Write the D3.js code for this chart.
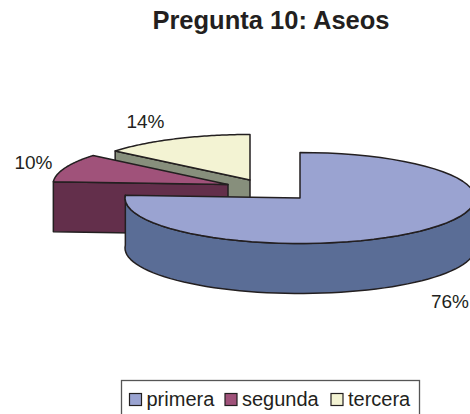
<!DOCTYPE html>
<html>
<head>
<meta charset="utf-8">
<script src="https://cdn.jsdelivr.net/npm/d3@7"></script>
<style>
body { margin: 0; background: #fff; }
svg { display: block; font-family: "Liberation Sans", Arial, sans-serif; }
</style>
</head>
<body>
<script>
var categories = ["primera", "segunda", "tercera"];
var values = [76, 10, 14];
var valueLabels = ["76%", "10%", "14%"];

var topColors = ["#9aa3d1", "#a0527a", "#f3f3d3"];
var sideColors = ["#5a6d96", "#632f4b", "#878f7c"];

var width = 470, height = 414;
var rx = 175, ry = 45.5, depth = 50;
var ink = "#231f20";

// where each exploded slice has its apex
var centers = [[300, 198], [228, 184.5], [250, 180]];
var labelPos = [[450, 308], [33.5, 169], [145.5, 128]];
var legendX = [129.5, 225, 331];

var svg = d3.select("body").append("svg")
	.attr("width", width)
	.attr("height", height);

var slices = d3.pie().sort(null)(values);
var line = d3.line();

// point on the tilted rim, angle measured clockwise from the top
function rimPoint(c, a) {
	return [c[0] + rx * Math.sin(a), c[1] - ry * Math.cos(a)];
}

function rim(c, a0, a1) {
	var steps = d3.range(0, 61).map(function(i) { return a0 + (a1 - a0) * i / 60; });
	return steps.map(function(a) { return rimPoint(c, a); });
}

function down(p) { return [p[0], p[1] + depth]; }

function wallPath(pts) {
	return line(pts.concat(pts.slice().reverse().map(down))) + "Z";
}

function drawFace(d, fill) {
	svg.append("path")
		.attr("d", d)
		.attr("fill", fill)
		.attr("stroke", ink)
		.attr("stroke-width", 1.5)
		.attr("stroke-linejoin", "round");
}

// back to front: tercera, segunda, primera
[2, 1, 0].forEach(function(i) {
	var s = slices[i], c = centers[i];
	if (i === 0) {
		drawFace(wallPath(rim(c, Math.PI / 2, s.endAngle)), sideColors[i]);
	} else {
		drawFace(wallPath([c, rimPoint(c, s.startAngle)]), sideColors[i]);
	}
	drawFace(line([c].concat(rim(c, s.startAngle, s.endAngle))) + "Z", topColors[i]);
});

svg.append("text")
	.attr("x", 271)
	.attr("y", 29)
	.attr("text-anchor", "middle")
	.attr("font-size", 25.5)
	.attr("font-weight", "bold")
	.attr("fill", ink)
	.text("Pregunta 10: Aseos");

svg.selectAll(".pct")
	.data(valueLabels)
	.enter().append("text")
	.attr("class", "pct")
	.attr("x", function(d, i) { return labelPos[i][0]; })
	.attr("y", function(d, i) { return labelPos[i][1]; })
	.attr("text-anchor", "middle")
	.attr("font-size", 19)
	.attr("fill", ink)
	.text(function(d) { return d; });

// legend, its lower edge runs off the picture
svg.append("rect")
	.attr("x", 121.5)
	.attr("y", 380.5)
	.attr("width", 298)
	.attr("height", 40)
	.attr("fill", "#fff")
	.attr("stroke", "#555")
	.attr("stroke-width", 1.3);

var legend = svg.selectAll(".legend")
	.data(categories)
	.enter().append("g")
	.attr("class", "legend")
	.attr("transform", function(d, i) { return "translate(" + legendX[i] + ",0)"; });

legend.append("rect")
	.attr("x", 0)
	.attr("y", 393.5)
	.attr("width", 12)
	.attr("height", 12)
	.attr("fill", function(d, i) { return topColors[i]; })
	.attr("stroke", ink)
	.attr("stroke-width", 1.2);

legend.append("text")
	.attr("x", 17)
	.attr("y", 406)
	.attr("font-size", 20)
	.attr("fill", ink)
	.text(function(d) { return d; });
</script>
</body>
</html>
